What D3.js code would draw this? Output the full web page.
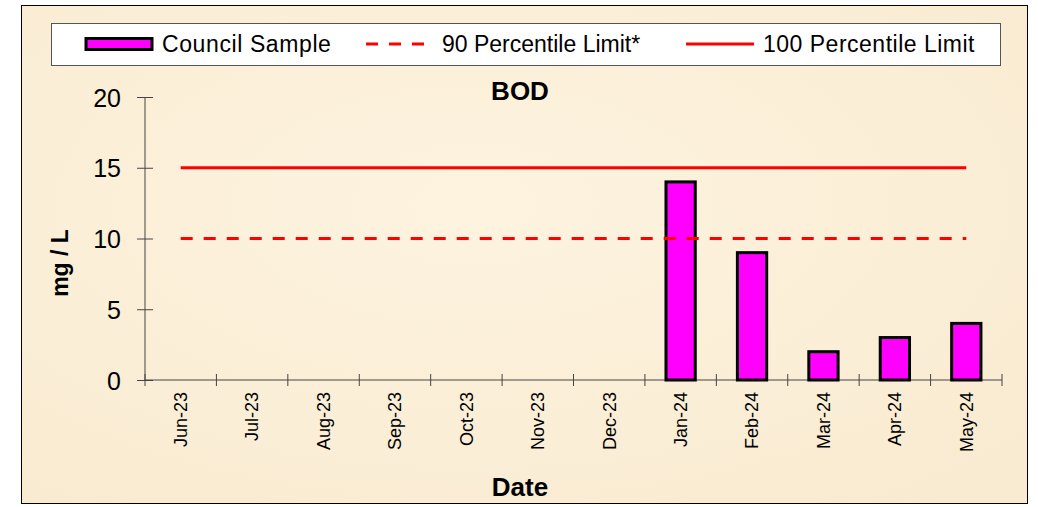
<!DOCTYPE html>
<html>
<head>
<meta charset="utf-8">
<script src="https://cdn.jsdelivr.net/npm/d3@7"></script>
<style>
    body { margin: 0; background: #ffffff; }
    text { font-family: "Liberation Sans", Arial, sans-serif; }
</style>
</head>
<body>
<div id="chart"></div>
<script>
var months = ["Jun-23", "Jul-23", "Aug-23", "Sep-23", "Oct-23", "Nov-23", "Dec-23", "Jan-24", "Feb-24", "Mar-24", "Apr-24", "May-24"];
var samples = [null, null, null, null, null, null, null, 14, 9, 2, 3, 4];
var limit90 = [10, 10, 10, 10, 10, 10, 10, 10, 10, 10, 10, 10];
var limit100 = [15, 15, 15, 15, 15, 15, 15, 15, 15, 15, 15, 15];
var yTicks = [0, 5, 10, 15, 20];

var width = 1038, height = 507;
var plotLeft = 145, plotRight = 1002, plotTop = 97, plotBottom = 380;

var svg = d3.select("#chart")
    .append("svg")
    .attr("width", width)
    .attr("height", height);

// parchment background
var defs = svg.append("defs");
var grad = defs.append("radialGradient")
    .attr("id", "paper")
    .attr("cx", "45%").attr("cy", "40%").attr("r", "75%");
grad.append("stop").attr("offset", "0%").attr("stop-color", "#fdf3df");
grad.append("stop").attr("offset", "100%").attr("stop-color", "#f9ebd1");

svg.append("rect")
    .attr("x", 21.5).attr("y", 5.5)
    .attr("width", 1006).attr("height", 498)
    .attr("fill", "url(#paper)")
    .attr("stroke", "#000")
    .attr("stroke-width", 1);

var x = d3.scaleBand().domain(months).range([plotLeft, plotRight]);
var y = d3.scaleLinear().domain([0, 20]).range([plotBottom, plotTop]);

// y axis
var yAxis = d3.axisLeft(y).tickValues(yTicks).tickSize(8).tickPadding(10);
var gy = svg.append("g")
    .attr("transform", "translate(" + plotLeft + ",0)")
    .call(yAxis);
gy.select(".domain").attr("stroke", "#444").attr("d", "M0," + plotTop + "V" + plotBottom);
gy.selectAll(".tick line").attr("stroke", "#444").attr("x2", 8).attr("x1", -8);
gy.selectAll(".tick text")
    .attr("x", -24)
    .attr("dy", "0.36em")
    .style("font-size", "25px")
    .attr("fill", "#000");

// x axis
var xAxis = d3.axisBottom(x).tickSize(0).tickPadding(0);
var gx = svg.append("g")
    .attr("transform", "translate(0," + plotBottom + ")")
    .call(xAxis);
gx.select(".domain").attr("stroke", "#444").attr("d", "M" + plotLeft + ",0H" + plotRight);
gx.selectAll(".tick line").remove();
gx.selectAll(".tick text")
    .attr("transform", "rotate(-90)")
    .attr("x", -12)
    .attr("y", 0)
    .attr("dy", "0.35em")
    .style("text-anchor", "end")
    .style("font-size", "18px")
    .attr("fill", "#000");

// category boundary ticks
var bounds = months.map(function (m) { return x(m); }).concat([plotRight]);
gx.selectAll(".bound")
    .data(bounds)
    .enter()
    .append("line")
    .attr("class", "bound")
    .attr("x1", d => d).attr("x2", d => d)
    .attr("y1", -6).attr("y2", 6)
    .attr("stroke", "#444");

// bars
var barW = x.bandwidth() * 0.41;
var barData = months.map(function (m, i) { return { m: m, v: samples[i] }; })
    .filter(d => d.v !== null);
svg.selectAll(".bar")
    .data(barData)
    .enter()
    .append("rect")
    .attr("class", "bar")
    .attr("x", d => x(d.m) + x.bandwidth() / 2 - barW / 2)
    .attr("y", d => y(d.v))
    .attr("width", barW)
    .attr("height", d => y(0) - y(d.v))
    .attr("fill", "#ff00ff")
    .attr("stroke", "#000")
    .attr("stroke-width", 3);

// limit lines
var line = d3.line()
    .x((d, i) => x(months[i]) + x.bandwidth() / 2)
    .y(d => y(d));

svg.append("path")
    .datum(limit100)
    .attr("d", line)
    .attr("fill", "none")
    .attr("stroke", "#ff0000")
    .attr("stroke-width", 3);

svg.append("path")
    .datum(limit90)
    .attr("d", line)
    .attr("fill", "none")
    .attr("stroke", "#ff0000")
    .attr("stroke-width", 3)
    .attr("stroke-dasharray", "12,11");

// titles
svg.append("text")
    .attr("x", 520).attr("y", 100)
    .attr("text-anchor", "middle")
    .style("font-size", "26px")
    .style("font-weight", "bold")
    .text("BOD");

svg.append("text")
    .attr("transform", "translate(68,263) rotate(-90)")
    .attr("text-anchor", "middle")
    .style("font-size", "23px")
    .style("font-weight", "bold")
    .text("mg / L");

svg.append("text")
    .attr("x", 520).attr("y", 496)
    .attr("text-anchor", "middle")
    .style("font-size", "26px")
    .style("font-weight", "bold")
    .text("Date");

// legend
var legend = svg.append("g").attr("id", "legend");
legend.append("rect")
    .attr("x", 51.5).attr("y", 23.5)
    .attr("width", 949).attr("height", 42)
    .attr("fill", "#ffffff")
    .attr("stroke", "#555");

legend.append("rect")
    .attr("x", 86).attr("y", 38.5)
    .attr("width", 66).attr("height", 11)
    .attr("fill", "#ff00ff")
    .attr("stroke", "#000")
    .attr("stroke-width", 3);
legend.append("text")
    .attr("x", 162).attr("y", 52)
    .style("font-size", "23px")
    .style("letter-spacing", "0.6px")
    .text("Council Sample");

legend.append("line")
    .attr("x1", 366).attr("x2", 426)
    .attr("y1", 44).attr("y2", 44)
    .attr("stroke", "#ff0000")
    .attr("stroke-width", 3)
    .attr("stroke-dasharray", "12,11");
legend.append("text")
    .attr("x", 442).attr("y", 52)
    .style("font-size", "23px")
    .text("90 Percentile Limit*");

legend.append("line")
    .attr("x1", 686).attr("x2", 754)
    .attr("y1", 44).attr("y2", 44)
    .attr("stroke", "#ff0000")
    .attr("stroke-width", 3);
legend.append("text")
    .attr("x", 763).attr("y", 52)
    .style("font-size", "23px")
    .style("letter-spacing", "0.5px")
    .text("100 Percentile Limit");
</script>
</body>
</html>
